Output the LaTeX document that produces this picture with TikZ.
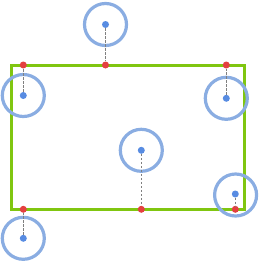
\documentclass[tikz,border=0pt]{standalone}
\usepackage{tikz}
\usetikzlibrary{positioning}

\definecolor{frame}{RGB}{128,198,16}
\definecolor{ringblue}{RGB}{138,173,226}
\definecolor{dotblue}{RGB}{88,140,226}
\definecolor{dotred}{RGB}{228,64,64}

\begin{document}
\begin{tikzpicture}[x=1mm, y=-1mm,%
  box/.style={line width=3mm, draw=frame},%
  ring/.style={circle, draw=ringblue, line width=3.2mm, minimum size=42mm, inner sep=0pt},%
  hub/.style={circle, fill=dotblue, minimum size=7mm, inner sep=0pt},%
  foot/.style={circle, fill=dotred, minimum size=7mm, inner sep=0pt},%
  drop/.style={draw=gray, line width=0.8mm, dash pattern=on 2.5mm off 1.5mm}%
]
  \useasboundingbox (0,0) rectangle (260,263);
  \draw[box] (11.5,65) rectangle (244.3,209.3);
  % nearest points on the frame
  \node[foot] (f1) at (105.5,65) {};
  \node[foot] (f2) at (23.3,65) {};
  \node[foot] (f3) at (226.3,65) {};
  \node[foot] (f4) at (141.3,209.3) {};
  \node[foot] (f5) at (235.3,209.3) {};
  \node[foot] (f6) at (23.3,209.3) {};
  % circles
  \node[ring] (r1) at (105.5,24.5) {};
  \node[ring] (r2) at (23.3,95.5) {};
  \node[ring] (r3) at (226.3,98.3) {};
  \node[ring] (r4) at (141.3,150.3) {};
  \node[ring] (r5) at (235.6,195) {};
  \node[ring] (r6) at (23.3,238.3) {};
  % centres
  \node[hub] (c1) at (105.5,24.5) {};
  \node[hub] (c2) at (23.3,95.5) {};
  \node[hub] (c3) at (226.3,98.3) {};
  \node[hub] (c4) at (141.3,150.3) {};
  \node[hub] (c5) at (235.3,194) {};
  \node[hub] (c6) at (23.3,238.3) {};
  \foreach \i in {1,...,6}
    \draw[drop] (c\i) -- (f\i);
\end{tikzpicture}
\end{document}
